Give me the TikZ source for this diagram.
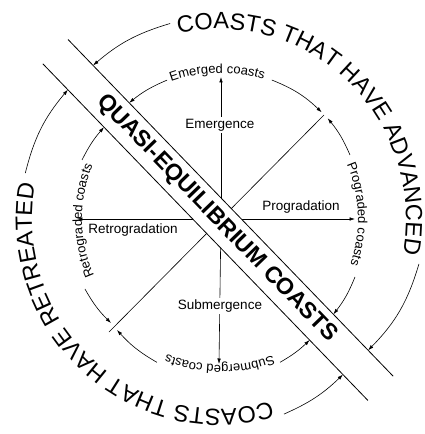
\documentclass[tikz,border=0pt]{standalone}
\usepackage{fontspec}
\setmainfont{Liberation Sans}
\usepackage{tikz}
\usetikzlibrary{arrows.meta, decorations.text}

\newcommand{\rimfont}{\fontsize{23.5}{24}\selectfont}
\newcommand{\arcfont}{\fontsize{13}{14}\selectfont}

\tikzstyle{arrow} = [-{Latex[length=5.5pt, width=3.6pt]}, line width=0.6pt]
\tikzstyle{thinline} = [line width=0.6pt]
\tikzstyle{bandline} = [line width=0.8pt]
\tikzstyle{axislabel} = [font=\fontsize{13.5}{16}\selectfont, fill=white, inner sep=2pt]
\tikzset{
  rimtext/.style={decorate, decoration={text along path, text align=center, text={|\rimfont|#1}}},
  arctext/.style={decorate, decoration={text along path, text align=center, text={|\arcfont|#1}}}
}

\begin{document}
\begin{tikzpicture}[x=1pt, y=1pt]
  \useasboundingbox (-221,-215) rectangle (204,219);
  \coordinate (o) at (0,0);

  % axes
  \coordinate (up) at (0,142);
  \coordinate (down) at (-2,-145);
  \coordinate (right) at (134,0);
  \coordinate (left) at (-144,0);
  \coordinate (ne) at (103,104);
  \coordinate (sw) at (-112,-113);
  \draw[arrow] (o) -- (up);
  \draw[arrow] (o) -- (down);
  \draw[arrow] (o) -- (right);
  \draw[arrow] (o) -- (left);
  \draw[thinline] (sw) -- (ne);

  \node[axislabel] (emergence) at (-1,94) {Emergence};
  \node[axislabel] (submergence) at (-1,-87) {Submergence};
  \node[axislabel] (progradation) at (80,12) {Progradation};
  \node[axislabel] (retrogradation) at (-88,-11) {Retrogradation};

  % quasi-equilibrium band
  \begin{scope}[shift={(-3,-1)}, rotate=-46]
    \fill[white] (-234,-17.5) rectangle (234,17.5);
    \draw[bandline] (-234,17.5) -- (234,17.5);
    \draw[bandline] (-234,-17.5) -- (234,-17.5);
    \node[transform shape, font=\bfseries\fontsize{23}{23}\selectfont] (quasi) at (-2,0) {QUASI-EQUILIBRIUM COASTS};
    \coordinate (up-nw) at (-198,17.5);
    \coordinate (lo-nw) at (-198,-17.5);
    \coordinate (up-se) at (198,17.5);
    \coordinate (lo-se) at (198,-17.5);
    \coordinate (up-nw2) at (-146,17.5);
    \coordinate (lo-nw2) at (-146,-17.5);
    \coordinate (up-se2) at (148,17.5);
    \coordinate (lo-se2) at (150,-17.5);
  \end{scope}

  \coordinate (ne-a) at (100.7,106.7);
  \coordinate (ne-b) at (106.7,100.7);
  \coordinate (sw-a) at (-110,-104);
  \coordinate (sw-b) at (-104,-111);

  % outer arrows
  \coordinate (adv-top) at (104.6:202);
  \coordinate (adv-end) at (-12.8:203);
  \coordinate (ret-top) at (166.8:201);
  \coordinate (ret-end) at (-72.1:205);
  \draw[arrow] (adv-top) to[bend right=12] (up-nw);
  \draw[arrow] (ret-top) to[bend left=13] (lo-nw);
  \draw[arrow] (adv-end) to[bend left=14] (up-se);
  \draw[arrow] (ret-end) to[bend right=10] (lo-se);

  % inner arrows
  \coordinate (emg-l) at (111.2:149);
  \coordinate (emg-r) at (69.9:148);
  \coordinate (pro-t) at (26.4:144);
  \coordinate (pro-b) at (-23.4:146);
  \coordinate (sub-r) at (-67.6:155);
  \coordinate (sub-l) at (245.9:157);
  \coordinate (rtg-b) at (207.2:153);
  \coordinate (rtg-t) at (157:151);
  \draw[arrow] (emg-l) to[bend right=8] (up-nw2);
  \draw[arrow] (emg-r) to[bend left=11] (ne-a);
  \draw[arrow] (pro-t) to[bend right=8] (ne-b);
  \draw[arrow] (pro-b) to[bend left=8] (up-se2);
  \draw[arrow] (sub-r) to[bend right=7] (lo-se2);
  \draw[arrow] (sub-l) to[bend left=9] (sw-b);
  \draw[arrow] (rtg-b) to[bend right=8] (sw-a);
  \draw[arrow] (rtg-t) to[bend left=7] (lo-nw2);

  % texts along the circles
  \path[rimtext={COASTS THAT HAVE ADVANCED}] ([shift={(110:187 and 190)}]-2,0) arc[start angle=110, end angle=-18, x radius=187pt, y radius=190pt];
  \path[rimtext={COASTS THAT HAVE RETREATED}] ([shift={(-65:187 and 190)}]-2,0) arc[start angle=-65, end angle=-199.3, x radius=187pt, y radius=190pt];
  \path[arctext={Emerged coasts}] (117:146) arc[start angle=117, end angle=66, radius=146pt];
  \path[arctext={Prograded coasts}] (30:137) arc[start angle=30, end angle=-26, radius=137pt];
  \path[arctext={Submerged coasts}] (-63:146) arc[start angle=-63, end angle=-118, radius=146pt];
  \path[arctext={Retrograded coasts}] (210:139) arc[start angle=210, end angle=151.5, radius=139pt];
\end{tikzpicture}
\end{document}
